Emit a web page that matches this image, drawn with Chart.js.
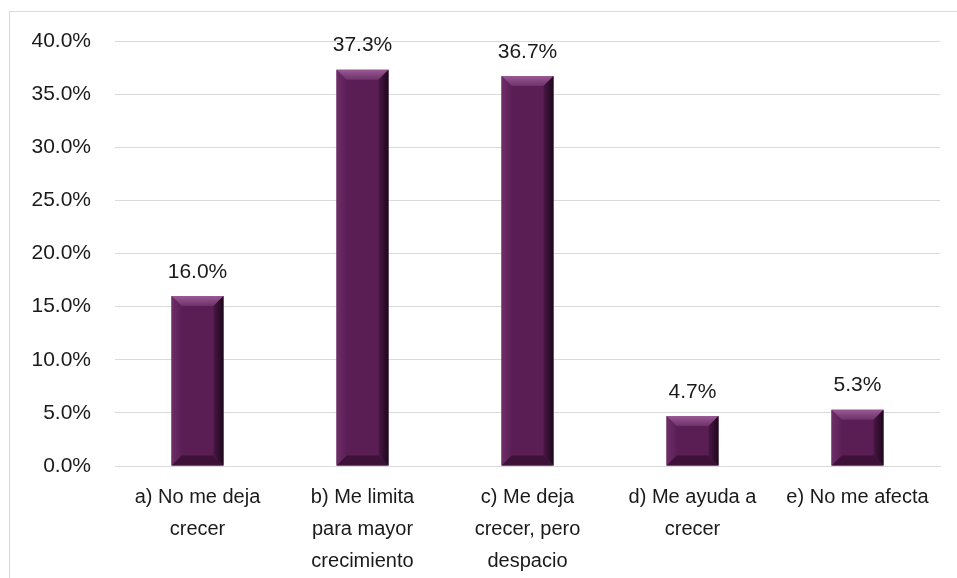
<!DOCTYPE html>
<html>
<head>
<meta charset="utf-8">
<script src="https://cdn.jsdelivr.net/npm/chart.js@4/dist/chart.umd.min.js"></script>
<style>
html, body { margin: 0; padding: 0; background: #fff; }
#frame { position: absolute; left: 9px; top: 11px; width: 960px; height: 580px; border: 1px solid #d9d9d9; box-sizing: border-box; }
#wrap { position: absolute; left: 0; top: 0; width: 957px; height: 578px; }
</style>
</head>
<body>
<div id="frame"></div>
<div id="wrap"><canvas id="myBarChart"></canvas></div>
<script>
var categories = [
    ['a) No me deja', 'crecer'],
    ['b) Me limita', 'para mayor', 'crecimiento'],
    ['c) Me deja', 'crecer, pero', 'despacio'],
    ['d) Me ayuda a', 'crecer'],
    'e) No me afecta'
];
var values = [16.0, 37.3, 36.7, 4.7, 5.3];
var tickValues = [0, 5, 10, 15, 20, 25, 30, 35, 40];

var barColor = '#5a1e55';

// Bevel look drawn over each bar
var bevelPlugin = {
    id: 'bevel',
    afterDatasetsDraw: function (chart) {
        var ctx = chart.ctx;
        chart.getDatasetMeta(0).data.forEach(function (bar) {
            var x0 = bar.x - bar.width / 2, x1 = bar.x + bar.width / 2;
            var y0 = bar.y, y1 = bar.base;
            var h = y1 - y0;
            var b = Math.min(10, h / 3);
            ctx.save();
            // top
            var g = ctx.createLinearGradient(0, y0, 0, y0 + b);
            g.addColorStop(0, '#9a5a95');
            g.addColorStop(1, '#6e3169');
            ctx.fillStyle = g;
            ctx.beginPath();
            ctx.moveTo(x0, y0); ctx.lineTo(x1, y0); ctx.lineTo(x1 - b, y0 + b); ctx.lineTo(x0 + b, y0 + b);
            ctx.closePath(); ctx.fill();
            // bottom
            ctx.fillStyle = '#3d1138';
            ctx.beginPath();
            ctx.moveTo(x0, y1); ctx.lineTo(x1, y1); ctx.lineTo(x1 - b, y1 - b); ctx.lineTo(x0 + b, y1 - b);
            ctx.closePath(); ctx.fill();
            // left
            g = ctx.createLinearGradient(x0, 0, x0 + b, 0);
            g.addColorStop(0, '#6e2e68');
            g.addColorStop(1, '#5c1f57');
            ctx.fillStyle = g;
            ctx.beginPath();
            ctx.moveTo(x0, y0); ctx.lineTo(x0 + b, y0 + b); ctx.lineTo(x0 + b, y1 - b); ctx.lineTo(x0, y1);
            ctx.closePath(); ctx.fill();
            // right
            g = ctx.createLinearGradient(x1 - b, 0, x1, 0);
            g.addColorStop(0, '#4a1646');
            g.addColorStop(1, '#1c081a');
            ctx.fillStyle = g;
            ctx.beginPath();
            ctx.moveTo(x1, y0); ctx.lineTo(x1 - b, y0 + b); ctx.lineTo(x1 - b, y1 - b); ctx.lineTo(x1, y1);
            ctx.closePath(); ctx.fill();
            ctx.restore();
        });
    }
};

// Value labels above bars
var valueLabels = {
    id: 'valueLabels',
    afterDatasetsDraw: function (chart) {
        var ctx = chart.ctx;
        ctx.save();
        ctx.font = '21px "Liberation Sans", Arial, sans-serif';
        ctx.fillStyle = '#1a1a1a';
        ctx.textAlign = 'center';
        ctx.textBaseline = 'middle';
        chart.getDatasetMeta(0).data.forEach(function (bar, i) {
            ctx.fillText(values[i].toFixed(1) + '%', bar.x, bar.y - 24);
        });
        ctx.restore();
    }
};

var ctx = document.getElementById('myBarChart').getContext('2d');
var myBarChart = new Chart(ctx, {
    type: 'bar',
    data: {
        labels: categories,
        datasets: [{
            data: values,
            backgroundColor: barColor,
            borderWidth: 0,
            barPercentage: 0.63,
            categoryPercentage: 0.5
        }]
    },
    options: {
        responsive: true,
        maintainAspectRatio: false,
        animation: false,
        plugins: {
            legend: { display: false },
            tooltip: { enabled: false }
        },
        layout: {
            padding: { left: 0, right: 17, top: 41, bottom: 0 }
        },
        scales: {
            x: {
                grid: { display: false },
                border: { color: '#d9d9d9', width: 1 },
                ticks: {
                    color: '#1a1a1a',
                    padding: 7,
                    maxRotation: 0,
                    autoSkip: false,
                    font: { family: '"Liberation Sans Narrow", "Liberation Sans", Arial, sans-serif', size: 20, lineHeight: 1.6 }
                },
                afterFit: function (scale) { scale.height = 112; }
            },
            y: {
                min: 0,
                max: 40,
                afterBuildTicks: function (scale) {
                    scale.ticks = tickValues.map(function (v) { return { value: v }; });
                },
                grid: { color: '#d9d9d9', drawTicks: false },
                border: { display: false },
                ticks: {
                    color: '#1a1a1a',
                    padding: 24,
                    font: { family: '"Liberation Sans", Arial, sans-serif', size: 21 },
                    callback: function (v) { return v.toFixed(1) + '%'; }
                },
                afterFit: function (scale) { scale.width = 115; }
            }
        }
    },
    plugins: [bevelPlugin, valueLabels]
});
</script>
</body>
</html>
